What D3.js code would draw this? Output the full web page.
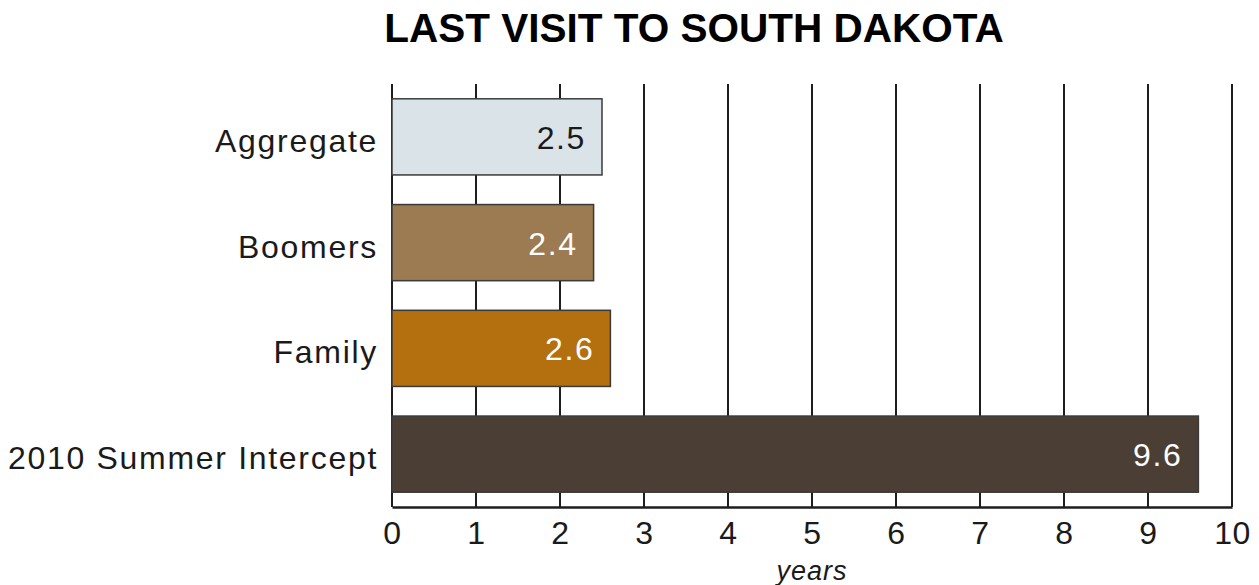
<!DOCTYPE html>
<html>
<head>
<meta charset="utf-8">
<script src="https://cdn.jsdelivr.net/npm/d3@7"></script>
<style>
  html, body { margin: 0; padding: 0; background: #ffffff; }
  svg { display: block; }
  text { font-family: "Liberation Sans", Arial, Helvetica, sans-serif; }
</style>
</head>
<body>
<svg id="chart" width="1259" height="585"></svg>
<script>
// Average years since last visit, by segment
const categories = ["Aggregate", "Boomers", "Family", "2010 Summer Intercept"];
const values = [2.5, 2.4, 2.6, 9.6];
const barColors = ["#dae3e8", "#9c7a52", "#b4700f", "#4b3e35"];
const labelColors = ["#1a1a1a", "#ffffff", "#ffffff", "#ffffff"];
const tickValues = [0, 1, 2, 3, 4, 5, 6, 7, 8, 9, 10];
const titleText = "LAST VISIT TO SOUTH DAKOTA";
const axisTitle = "years";

const svg = d3.select("#chart");
const plot = { left: 392, right: 1232, top: 84, bottom: 507 };

const x = d3.scaleLinear().domain([0, 10]).range([plot.left, plot.right]);
const y = d3.scaleBand()
  .domain(categories)
  .range([plot.top, plot.bottom])
  .paddingInner(0.28)
  .paddingOuter(0.14);

// Title
svg.append("text")
  .attr("x", 694)
  .attr("y", 42)
  .attr("text-anchor", "middle")
  .attr("font-size", 40.5)
  .attr("font-weight", "bold")
  .attr("fill", "#000")
  .text(titleText);

// Vertical gridlines at each whole year
svg.append("g")
  .selectAll("line")
  .data(tickValues)
  .join("line")
  .attr("x1", d => x(d))
  .attr("x2", d => x(d))
  .attr("y1", plot.top)
  .attr("y2", plot.bottom)
  .attr("stroke", "#1e1e1e")
  .attr("stroke-width", 2);

// Bars
const rows = categories.map((c, i) => ({ cat: c, value: values[i], fill: barColors[i], ink: labelColors[i] }));

svg.append("g")
  .selectAll("rect")
  .data(rows)
  .join("rect")
  .attr("x", x(0))
  .attr("y", d => y(d.cat))
  .attr("width", d => x(d.value) - x(0))
  .attr("height", y.bandwidth())
  .attr("fill", d => d.fill)
  .attr("stroke", "#3a3a3a")
  .attr("stroke-width", 1.5);

// Value labels inside the bar ends
svg.append("g")
  .selectAll("text")
  .data(rows)
  .join("text")
  .attr("x", d => x(d.value) - 16)
  .attr("y", d => y(d.cat) + y.bandwidth() / 2 + 12)
  .attr("text-anchor", "end")
  .attr("font-size", 32)
  .attr("letter-spacing", 1.6)
  .attr("fill", d => d.ink)
  .text(d => d.value.toFixed(1));

// Category labels
svg.append("g")
  .selectAll("text")
  .data(categories)
  .join("text")
  .attr("x", plot.left - 14)
  .attr("y", d => y(d) + y.bandwidth() / 2 + 15)
  .attr("text-anchor", "end")
  .attr("font-size", 32)
  .attr("letter-spacing", 1.7)
  .attr("fill", "#1a1a1a")
  .text(d => d);

// Bottom axis
const xAxis = d3.axisBottom(x)
  .tickValues(tickValues)
  .tickSize(0)
  .tickPadding(0)
  .tickFormat(d3.format("d"));

const axisG = svg.append("g")
  .attr("transform", `translate(0,${plot.bottom})`)
  .call(xAxis);

axisG.select(".domain")
  .attr("stroke", "#1e1e1e")
  .attr("stroke-width", 2.5);

axisG.selectAll(".tick text")
  .attr("y", 37)
  .attr("dy", 0)
  .attr("font-size", 32)
  .attr("letter-spacing", 0.5)
  .attr("font-family", "Liberation Sans, Arial, sans-serif")
  .attr("fill", "#1a1a1a");

// Axis title
svg.append("text")
  .attr("x", (plot.left + plot.right) / 2)
  .attr("y", 580)
  .attr("text-anchor", "middle")
  .attr("font-size", 27)
  .attr("font-style", "italic")
  .attr("letter-spacing", 1)
  .attr("fill", "#1a1a1a")
  .text(axisTitle);
</script>
</body>
</html>
